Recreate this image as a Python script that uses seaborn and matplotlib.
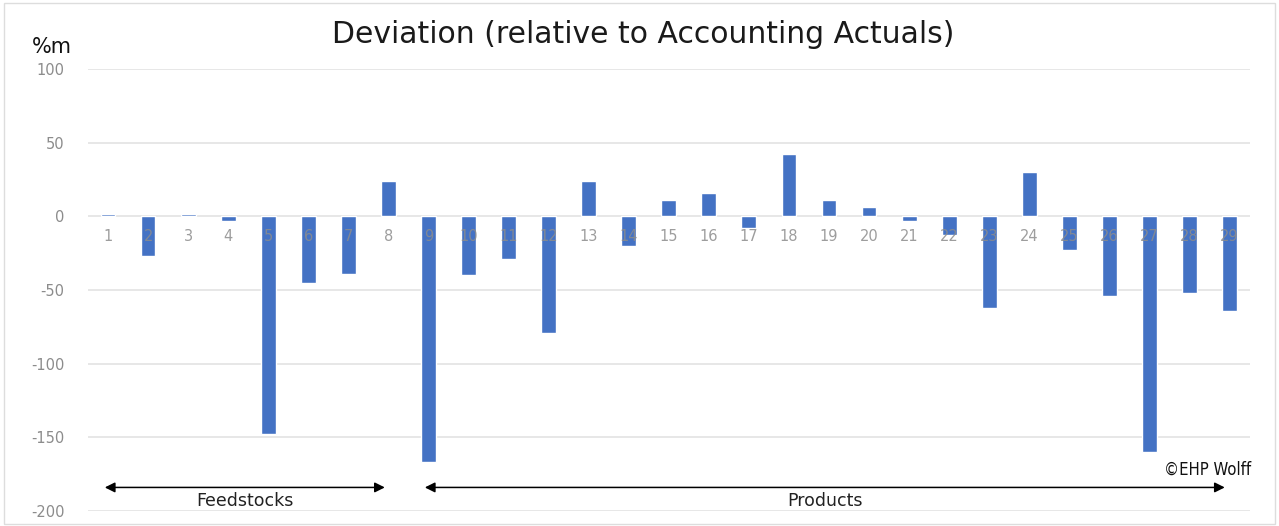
import matplotlib
matplotlib.use("Agg")
import matplotlib.pyplot as plt
import seaborn as sns
import numpy as np

categories = [str(i) for i in range(1, 30)]
deviation = [1.5, -27, 1.5, -3, -148, -45, -39, 24, -167, -40, -29, -79, 24, -20, 11, 16,
             -8, 42, 11, 6, -3, -13, -62, 30, -23, -54, -160, -52, -64]
y_ticks = [100, 50, 0, -50, -100, -150, -200]
groups = ["Feedstocks", "Products"]

sns.set_theme(style="white")
plt.rcParams['font.family'] = ['DejaVu Sans']

fig = plt.figure(figsize=(12.79, 5.26), dpi=100)
ax = fig.add_axes([0.0688, 0.0285, 0.9082, 0.8405])

sns.barplot(x=categories, y=deviation, color="#4472C4", width=0.37, saturation=1,
            ax=ax, zorder=3)

ax.set_ylim(-200, 100)
ax.set_xlim(-0.5, 28.5)
ax.set_yticks(y_ticks)
ax.set_yticklabels([str(t) for t in y_ticks], color="#8c8c8c", fontsize=10.5)
ax.tick_params(axis='y', length=0, pad=17)
ax.set_xticks([])
ax.set_xlabel("")
ax.set_ylabel("")
for s in ax.spines.values():
    s.set_visible(False)
for t in y_ticks:
    ax.axhline(t, color="#e3e3e3", lw=1.2, zorder=1)

# category labels next to the zero line (drawn over the bars, in grey)
for i, c in enumerate(categories):
    ax.text(i, -14, c, ha="center", va="center", color="#8c8c8c", fontsize=10.5,
            zorder=4, alpha=0.85)

# group arrows (start/end in category units)
arrow_y = -184
arrow_ends = [(-0.08, 6.91), (7.91, 27.88)]
for (x0, x1), name in zip(arrow_ends, groups):
    ax.annotate("", xy=(x1, arrow_y), xytext=(x0, arrow_y),
                arrowprops=dict(arrowstyle="<|-|>", color="black", lw=1.1,
                                mutation_scale=15, shrinkA=0, shrinkB=0), zorder=4)
    ax.text((x0 + x1) / 2, arrow_y - 9, name, ha="center", va="center",
            fontsize=12.5, color="#222222", zorder=4)

fig.text(0.503, 0.935, "Deviation (relative to Accounting Actuals)", ha="center", va="center",
         fontsize=21.5, color="#1a1a1a")
fig.text(0.025, 0.91, "%m", ha="left", va="center", fontsize=15, color="#111111")
fig.text(0.978, 0.107, "©EHP Wolff", ha="right", va="center", fontsize=12,
         color="#111111", family="Liberation Sans Narrow", fontstretch="condensed")

# frame
fig.patches.append(plt.Rectangle((0.003, 0.004), 0.994, 0.99, transform=fig.transFigure,
                                 fill=False, edgecolor="#dddddd", lw=1))

fig.savefig("out.png", dpi=100)
